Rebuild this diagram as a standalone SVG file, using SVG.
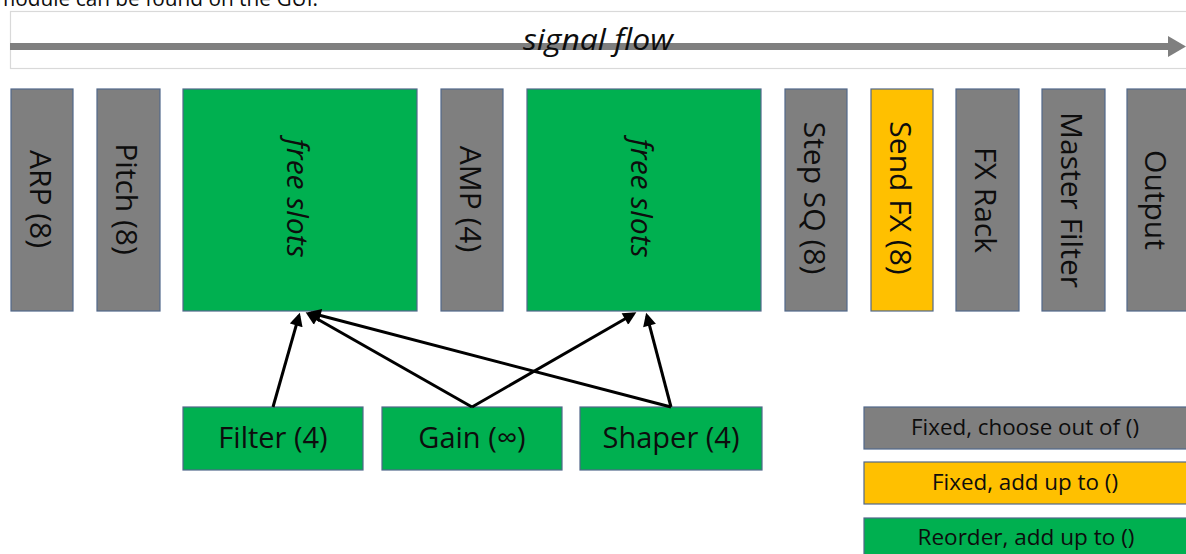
<svg xmlns="http://www.w3.org/2000/svg" width="1186" height="554" viewBox="0 0 1186 554">
<style>
  text { font-family: "Open Sans", "Liberation Sans", sans-serif; fill: #0d0d0d; }
  .box { stroke: #51688a; stroke-width: 1.2; }
  .gray { fill: #7f7f7f; }
  .green { fill: #00b050; }
  .yellow { fill: #ffc000; }
  .vlabel { font-size: 30px; text-anchor: middle; dominant-baseline: central; }
  .ital { font-style: italic; }
  .hlabel { font-size: 29px; text-anchor: middle; }
  .legend { font-size: 21px; text-anchor: middle; }
  .conn { stroke: #000; stroke-width: 3; fill: none; marker-end: url(#arrow); }
</style>
<defs>
  <marker id="arrow" viewBox="0 0 10 10" refX="7.5" refY="5" markerWidth="5" markerHeight="4.4" orient="auto" markerUnits="strokeWidth">
    <path d="M0,0 L10,5 L0,10 Z" fill="#000"/>
  </marker>
</defs>
<rect width="1186" height="554" fill="#fff"/>

<text x="-4" y="6" font-size="21" textLength="322" lengthAdjust="spacingAndGlyphs">module can be found on the GUI.</text>

<g id="signal-flow">
  <rect x="10.5" y="11.5" width="1190" height="57" fill="none" stroke="#d9d9d9" stroke-width="1.2"/>
  <line x1="10" y1="46.5" x2="1170" y2="46.5" stroke="#7f7f7f" stroke-width="7"/>
  <polygon points="1168,36 1186,46.5 1168,57" fill="#7f7f7f"/>
  <text x="598" y="50" font-size="29" class="ital" text-anchor="middle" textLength="150" lengthAdjust="spacingAndGlyphs">signal flow</text>
</g>

<g id="arp">
  <rect class="box gray" x="11" y="89" width="62" height="222"/>
  <text class="vlabel" transform="translate(41,199) rotate(90)">ARP (8)</text>
</g>
<g id="pitch">
  <rect class="box gray" x="97" y="89" width="63" height="222"/>
  <text class="vlabel" transform="translate(127,199) rotate(90)">Pitch (8)</text>
</g>
<g id="free-slots-1">
  <rect class="box green" x="183" y="89" width="234" height="222"/>
  <text class="vlabel ital" transform="translate(298,198) rotate(90)">free slots</text>
</g>
<g id="amp">
  <rect class="box gray" x="441" y="89" width="62" height="222"/>
  <text class="vlabel" transform="translate(471,199) rotate(90)">AMP (4)</text>
</g>
<g id="free-slots-2">
  <rect class="box green" x="527" y="89" width="234" height="222"/>
  <text class="vlabel ital" transform="translate(642,198) rotate(90)">free slots</text>
</g>
<g id="step-sq">
  <rect class="box gray" x="785" y="89" width="62" height="222"/>
  <text class="vlabel" transform="translate(815,198) rotate(90)">Step SQ (8)</text>
</g>
<g id="send-fx">
  <rect class="box yellow" x="871" y="89" width="62" height="222"/>
  <text class="vlabel" transform="translate(901,198) rotate(90)">Send FX (8)</text>
</g>
<g id="fx-rack">
  <rect class="box gray" x="956" y="89" width="63" height="222"/>
  <text class="vlabel" transform="translate(986,200) rotate(90)">FX Rack</text>
</g>
<g id="master-filter">
  <rect class="box gray" x="1042" y="89" width="63" height="222"/>
  <text class="vlabel" transform="translate(1072,200) rotate(90)">Master Filter</text>
</g>
<g id="output">
  <rect class="box gray" x="1127" y="89" width="63" height="222"/>
  <text class="vlabel" transform="translate(1156,200) rotate(90)">Output</text>
</g>

<g id="filter">
  <rect class="box green" x="183" y="407" width="180" height="63"/>
  <text class="hlabel" x="273" y="448">Filter (4)</text>
</g>
<g id="gain">
  <rect class="box green" x="382" y="407" width="180" height="63"/>
  <text class="hlabel" x="472" y="448">Gain (∞)</text>
</g>
<g id="shaper">
  <rect class="box green" x="580" y="407" width="182" height="63"/>
  <text class="hlabel" x="671" y="448">Shaper (4)</text>
</g>

<g id="connectors">
  <line class="conn" x1="273" y1="407" x2="298.9" y2="315.8"/>
  <line class="conn" x1="472" y1="407" x2="308.5" y2="314"/>
  <line class="conn" x1="671" y1="407" x2="310.9" y2="313"/>
  <line class="conn" x1="472" y1="407" x2="633.5" y2="314"/>
  <line class="conn" x1="671" y1="407" x2="647" y2="315.9"/>
</g>

<g id="legend-fixed-choose">
  <rect class="box gray" x="864" y="407" width="330" height="42"/>
  <text class="legend" x="1025" y="435" textLength="228" lengthAdjust="spacingAndGlyphs">Fixed, choose out of ()</text>
</g>
<g id="legend-fixed-add">
  <rect class="box yellow" x="864" y="462" width="330" height="42"/>
  <text class="legend" x="1025" y="490" textLength="186" lengthAdjust="spacingAndGlyphs">Fixed, add up to ()</text>
</g>
<g id="legend-reorder">
  <rect class="box green" x="864" y="518" width="330" height="42"/>
  <text class="legend" x="1026" y="545" textLength="217" lengthAdjust="spacingAndGlyphs">Reorder, add up to ()</text>
</g>
</svg>
